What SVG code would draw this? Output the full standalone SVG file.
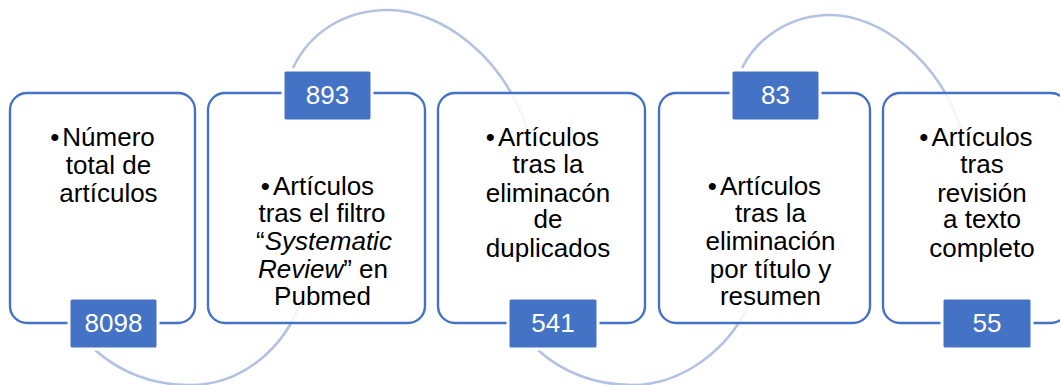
<svg xmlns="http://www.w3.org/2000/svg" width="1060" height="385" viewBox="0 0 1060 385">
<style>
.box{fill:#ffffff;fill-opacity:0.85;stroke:#4472C4;stroke-width:2.4}
.lab{fill:#4472C4;stroke:#ffffff;stroke-width:3}
.arc{fill:none;stroke:#B4C2E2;stroke-width:2.6}
.t{font-family:"Liberation Sans",Arial,sans-serif;font-size:26px;fill:#000000;text-anchor:middle}
.n{font-family:"Liberation Sans",Arial,sans-serif;font-size:26px;fill:#ffffff;text-anchor:middle}
</style>
<rect width="1060" height="385" fill="#ffffff"/>
<g id="connectors">
<path class="arc" d="M293,68 C310,32 345,10 388,10 C440,10 505,55 529,135"/>
<path class="arc" d="M95,350 C120,372 152,385 190,385 C240,385 285,350 302,298"/>
<path class="arc" d="M742,68 C758,36 792,15 830,15 C880,15 940,60 962,132"/>
<path class="arc" d="M538,350 C562,372 595,385 632,385 C682,385 730,350 752,298"/>
</g>
<g id="node1">
<rect class="box" x="10" y="93" width="185" height="230" rx="17"/>
<text class="t" x="102.5" y="146">•<tspan dx="3">Número</tspan></text>
<text class="t" x="108.5" y="174">total de</text>
<text class="t" x="108.5" y="202">artículos</text>
<rect class="lab" x="69" y="298" width="89" height="51" rx="3"/>
<text class="n" x="113.5" y="332">8098</text>
</g>
<g id="node2">
<rect class="box" x="208" y="93" width="217" height="230" rx="17"/>
<text class="t" x="317.5" y="195">•<tspan dx="3">Artículos</tspan></text>
<text class="t" x="322" y="222">tras el filtro</text>
<text class="t" x="324" y="250">“<tspan font-style="italic">Systematic</tspan></text>
<text class="t" x="323" y="278"><tspan font-style="italic">Review</tspan>” en</text>
<text class="t" x="322.5" y="305">Pubmed</text>
<rect class="lab" x="283" y="70" width="89" height="51" rx="3"/>
<text class="n" x="327.5" y="104">893</text>
</g>
<g id="node3">
<rect class="box" x="438" y="93" width="207" height="230" rx="17"/>
<text class="t" x="542.5" y="146">•<tspan dx="3">Artículos</tspan></text>
<text class="t" x="548" y="173">tras la</text>
<text class="t" x="548" y="202">eliminacón</text>
<text class="t" x="548" y="228">de</text>
<text class="t" x="548" y="257">duplicados</text>
<rect class="lab" x="508" y="298" width="90" height="51" rx="3"/>
<text class="n" x="553" y="332">541</text>
</g>
<g id="node4">
<rect class="box" x="659" y="93" width="211" height="230" rx="17"/>
<text class="t" x="764.5" y="195">•<tspan dx="3">Artículos</tspan></text>
<text class="t" x="770.5" y="222">tras la</text>
<text class="t" x="770.5" y="250">eliminación</text>
<text class="t" x="770.5" y="278">por título y</text>
<text class="t" x="770.5" y="305">resumen</text>
<rect class="lab" x="731" y="70" width="89" height="51" rx="3"/>
<text class="n" x="775.5" y="104">83</text>
</g>
<g id="node5">
<rect class="box" x="883" y="93" width="185" height="230" rx="17"/>
<text class="t" x="976" y="146">•<tspan dx="3">Artículos</tspan></text>
<text class="t" x="982" y="173">tras</text>
<text class="t" x="982" y="202">revisión</text>
<text class="t" x="982" y="228">a texto</text>
<text class="t" x="982" y="257">completo</text>
<rect class="lab" x="942" y="298" width="90" height="51" rx="3"/>
<text class="n" x="987" y="332">55</text>
</g>
</svg>
